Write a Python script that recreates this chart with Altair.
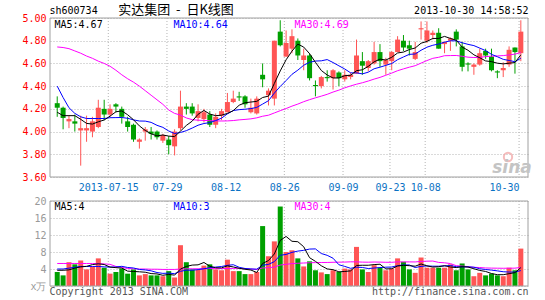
import altair as alt
import pandas as pd

# ---------------- data ----------------
tick_idx = [9, 19, 29, 39, 49, 57, 63, 79]
tick_lbl = ["2013-07-15", "07-29", "08-12", "08-26", "09-09", "09-23", "10-08", "10-30"]

opens = [4.25, 4.21, 4.09, 4.09, 4.01, 4.01, 4.00, 4.04, 4.20, 4.15,
         4.24, 4.20, 4.09, 4.06, 3.91, 4.00, 4.00, 4.00, 3.92, 3.93,
         3.87, 4.03, 4.22, 4.22, 4.12, 4.11, 4.15, 4.06, 4.14, 4.17,
         4.26, 4.31, 4.31, 4.17, 4.16, 4.50, 4.32, 4.29, 4.88, 4.66,
         4.73, 4.80, 4.63, 4.67, 4.41, 4.40, 4.48, 4.47, 4.52, 4.46,
         4.48, 4.51, 4.62, 4.56, 4.60, 4.70, 4.59, 4.62, 4.70, 4.80,
         4.76, 4.64, 4.90, 4.80, 4.85, 4.87, 4.77, 4.80, 4.88, 4.75,
         4.60, 4.57, 4.59, 4.71, 4.66, 4.53, 4.54, 4.59, 4.74, 4.69]
highs = [4.31, 4.22, 4.14, 4.15, 4.14, 4.14, 4.13, 4.28, 4.28, 4.24,
         4.25, 4.22, 4.13, 4.07, 3.94, 4.04, 4.04, 4.01, 3.98, 3.96,
         4.02, 4.36, 4.25, 4.25, 4.24, 4.20, 4.18, 4.16, 4.20, 4.34,
         4.36, 4.35, 4.32, 4.29, 4.31, 4.60, 4.38, 4.80, 4.98, 4.89,
         4.90, 4.82, 4.73, 4.69, 4.45, 4.49, 4.54, 4.55, 4.53, 4.54,
         4.52, 4.81, 4.70, 4.63, 4.79, 4.77, 4.65, 4.71, 4.84, 4.85,
         4.80, 4.79, 4.97, 4.97, 4.89, 4.91, 4.79, 4.83, 4.90, 4.79,
         4.61, 4.60, 4.73, 4.73, 4.73, 4.54, 4.61, 4.75, 4.74, 4.98]
lows = [4.13, 4.02, 4.03, 4.00, 3.70, 3.91, 3.95, 4.03, 4.10, 4.13,
        4.17, 4.07, 4.00, 3.91, 3.85, 3.92, 3.93, 3.93, 3.90, 3.80,
        3.79, 4.01, 4.15, 4.14, 4.09, 4.08, 4.04, 4.03, 4.10, 4.17,
        4.25, 4.27, 4.21, 4.16, 4.15, 4.39, 4.23, 4.23, 4.75, 4.66,
        4.69, 4.63, 4.54, 4.45, 4.31, 4.38, 4.44, 4.37, 4.40, 4.44,
        4.46, 4.51, 4.50, 4.53, 4.59, 4.57, 4.50, 4.54, 4.70, 4.71,
        4.67, 4.63, 4.81, 4.78, 4.81, 4.73, 4.69, 4.71, 4.75, 4.53,
        4.53, 4.50, 4.58, 4.64, 4.53, 4.47, 4.48, 4.57, 4.51, 4.62]
closes = [4.21, 4.12, 4.11, 4.07, 4.03, 4.03, 4.09, 4.21, 4.15, 4.20,
          4.22, 4.13, 4.04, 3.93, 3.93, 4.02, 3.98, 3.95, 3.97, 3.88,
          4.00, 4.22, 4.20, 4.16, 4.18, 4.17, 4.06, 4.13, 4.18, 4.26,
          4.29, 4.30, 4.24, 4.21, 4.29, 4.46, 4.36, 4.80, 4.76, 4.78,
          4.84, 4.67, 4.67, 4.47, 4.40, 4.48, 4.47, 4.54, 4.47, 4.50,
          4.50, 4.67, 4.58, 4.62, 4.70, 4.62, 4.63, 4.70, 4.81, 4.74,
          4.73, 4.70, 4.91, 4.89, 4.87, 4.73, 4.79, 4.82, 4.81, 4.57,
          4.59, 4.59, 4.69, 4.67, 4.54, 4.52, 4.56, 4.72, 4.70, 4.88]
ma5 = [4.17, 4.14, 4.14, 4.14, 4.108, 4.072, 4.066, 4.086, 4.102, 4.136,
       4.174, 4.182, 4.148, 4.104, 4.05, 4.01, 3.98, 3.962, 3.97, 3.96,
       3.956, 4.004, 4.054, 4.092, 4.152, 4.186, 4.154, 4.14, 4.144, 4.16,
       4.184, 4.232, 4.254, 4.26, 4.266, 4.30, 4.312, 4.424, 4.534, 4.632,
       4.708, 4.77, 4.744, 4.686, 4.61, 4.538, 4.498, 4.472, 4.472, 4.492,
       4.496, 4.536, 4.544, 4.574, 4.614, 4.638, 4.63, 4.654, 4.692, 4.70,
       4.722, 4.736, 4.778, 4.794, 4.82, 4.82, 4.838, 4.82, 4.804, 4.744,
       4.716, 4.676, 4.65, 4.622, 4.616, 4.602, 4.596, 4.602, 4.608, 4.676]
ma10 = [4.40, 4.30, 4.21, 4.16, 4.13, 4.115, 4.115, 4.115, 4.115, 4.122,
        4.123, 4.124, 4.117, 4.103, 4.093, 4.092, 4.081, 4.055, 4.037, 4.005,
        3.983, 3.992, 4.008, 4.031, 4.056, 4.071, 4.079, 4.097, 4.118, 4.156,
        4.185, 4.193, 4.197, 4.202, 4.213, 4.242, 4.272, 4.339, 4.397, 4.449,
        4.504, 4.541, 4.584, 4.61, 4.621, 4.623, 4.634, 4.608, 4.579, 4.551,
        4.517, 4.517, 4.508, 4.523, 4.553, 4.567, 4.583, 4.599, 4.633, 4.657,
        4.68, 4.683, 4.716, 4.743, 4.76, 4.771, 4.787, 4.799, 4.799, 4.782,
        4.768, 4.757, 4.735, 4.713, 4.68, 4.659, 4.636, 4.626, 4.615, 4.646]
ma30 = [4.745, 4.74, 4.73, 4.71, 4.69, 4.665, 4.645, 4.62, 4.60, 4.575,
        4.54, 4.50, 4.465, 4.435, 4.40, 4.36, 4.32, 4.28, 4.24, 4.19,
        4.16, 4.145, 4.12, 4.105, 4.10, 4.098, 4.096, 4.094, 4.093, 4.094,
        4.097, 4.103, 4.107, 4.112, 4.121, 4.135, 4.144, 4.164, 4.184, 4.203,
        4.224, 4.242, 4.263, 4.281, 4.297, 4.312, 4.328, 4.348, 4.365, 4.385,
        4.402, 4.417, 4.430, 4.445, 4.462, 4.477, 4.496, 4.515, 4.536, 4.552,
        4.567, 4.580, 4.603, 4.625, 4.645, 4.654, 4.668, 4.669, 4.670, 4.663,
        4.655, 4.652, 4.653, 4.660, 4.664, 4.666, 4.669, 4.675, 4.682, 4.695]

volume = [3.3, 2.5, 5.6, 5.1, 6.0, 3.9, 4.6, 6.5, 4.3, 2.9,
          3.3, 4.1, 2.9, 3.9, 2.5, 2.8, 2.5, 2.5, 2.3, 3.5,
          2.0, 9.6, 5.6, 3.9, 3.8, 4.8, 5.1, 3.9, 3.7, 6.2,
          3.5, 3.5, 2.8, 2.8, 3.3, 14.1, 7.0, 10.5, 18.7, 8.0,
          8.4, 6.5, 4.6, 5.8, 3.7, 3.2, 2.8, 3.7, 3.3, 4.1,
          3.9, 9.2, 3.9, 3.3, 4.9, 4.3, 3.7, 4.1, 6.5, 5.7,
          3.9, 3.1, 6.7, 4.3, 4.3, 4.3, 4.3, 5.1, 3.7, 5.3,
          3.9, 2.3, 3.1, 2.5, 2.9, 2.5, 2.3, 4.3, 3.7, 8.8]
vma5 = [3.7, 3.7, 3.8, 4.2, 4.5, 4.62, 5.04, 5.22, 5.06, 4.44,
        4.32, 4.22, 3.5, 3.42, 3.34, 3.24, 2.92, 2.84, 2.52, 2.72,
        2.56, 3.98, 4.6, 4.92, 4.98, 5.54, 4.64, 4.3, 4.26, 4.74,
        4.48, 4.16, 3.94, 3.76, 3.18, 5.3, 6.0, 7.54, 10.72, 11.66,
        10.52, 10.42, 9.24, 6.66, 5.8, 4.76, 4.02, 3.84, 3.34, 3.42,
        3.56, 4.84, 4.88, 4.88, 5.04, 5.12, 4.02, 4.06, 4.7, 4.86,
        4.78, 4.66, 5.18, 4.74, 4.46, 4.54, 4.78, 4.46, 4.34, 4.54,
        4.46, 4.06, 3.66, 3.42, 2.94, 2.66, 2.66, 2.9, 3.14, 4.32]
vma10 = [4.0, 4.0, 4.2, 4.4, 4.6, 4.6, 4.6, 4.6, 4.5, 4.47,
         4.47, 4.63, 4.36, 4.24, 3.89, 3.78, 3.57, 3.17, 2.97, 3.03,
         2.9, 3.45, 3.72, 3.72, 3.85, 4.05, 4.31, 4.45, 4.59, 4.86,
         5.01, 4.4, 4.12, 4.01, 3.96, 4.89, 5.08, 5.74, 7.24, 7.42,
         7.91, 8.21, 8.39, 8.69, 8.73, 7.64, 7.22, 6.54, 5.0, 4.61,
         4.16, 4.43, 4.36, 4.11, 4.23, 4.34, 4.43, 4.47, 4.79, 4.95,
         4.95, 4.34, 4.62, 4.72, 4.66, 4.66, 4.72, 4.82, 4.54, 4.5,
         4.5, 4.42, 4.06, 3.88, 3.74, 3.56, 3.36, 3.28, 3.28, 3.63]
vma30 = [5.3, 5.3, 5.3, 5.3, 5.3, 5.3, 5.3, 5.25, 5.2, 5.1,
         4.6, 4.4, 4.1, 4.05, 4.0, 4.0, 3.95, 3.95, 3.9, 3.9,
         3.9, 4.0, 4.05, 4.05, 4.05, 4.1, 4.1, 4.1, 4.1, 4.12,
         4.13, 4.16, 4.07, 3.99, 3.9, 4.24, 4.32, 4.45, 4.93, 5.10,
         5.27, 5.35, 5.41, 5.47, 5.51, 5.53, 5.54, 5.58, 5.61, 5.63,
         5.69, 5.68, 5.62, 5.60, 5.64, 5.62, 5.58, 5.58, 5.68, 5.66,
         5.67, 5.66, 5.79, 5.84, 5.87, 5.55, 5.46, 5.28, 4.78, 4.69,
         4.54, 4.40, 4.35, 4.24, 4.21, 4.19, 4.17, 4.19, 4.20, 4.36]

price_ticks = [3.6, 3.8, 4.0, 4.2, 4.4, 4.6, 4.8, 5.0]
vol_ticks = [0, 4, 8, 12, 16, 20]

title_left = "sh600734"
title_mid = "实达集团\u00a0\u00a0-\u00a0\u00a0日K线图"
title_right = "2013-10-30 14:58:52"
price_ma_labels = ["MA5:4.67", "MA10:4.64", "MA30:4.69"]
vol_ma_labels = ["MA5:4", "MA10:3", "MA30:4"]
footer_left = "Copyright 2013 SINA.COM"
footer_right = "http://finance.sina.com.cn"
vol_unit = "x万"

# ---------------- styling / layout ----------------
MONO = "DejaVu Sans Mono"
RED = "#ff5555"
GREEN = "#00a000"
MA_COLORS = ["#000000", "#0000ff", "#ff00ff"]
GRID = "#b4b4b4"
FRAME = "#a0a0a0"
W = 478          # plot width
PH = 159         # price panel height
VT, VB = 183, 268  # volume panel top / bottom (relative)

n = len(closes)
df = pd.DataFrame({
    "idx": list(range(n)),
    "open": opens, "high": highs, "low": lows, "close": closes,
    "ma5": ma5, "ma10": ma10, "ma30": ma30,
    "vol": volume, "vma5": vma5, "vma10": vma10, "vma30": vma30,
})
df["dir"] = ["up" if c >= o else "down" for o, c in zip(opens, closes)]

tick_pos = [round(i - 0.3, 2) for i in tick_idx]
grid_df = pd.DataFrame({"gx": tick_pos})
dummy = pd.DataFrame({"k": [0]})

expr = "''"
for p, l in reversed(list(zip(tick_pos, tick_lbl))):
    expr = f"abs(datum.value - {p}) < 0.05 ? '{l}' : ({expr})"

x_scale = alt.Scale(domain=[-0.38, 79.37], nice=False, zero=False)
x_axis = alt.Axis(values=tick_pos, labelExpr=expr, orient="bottom", offset=-(VB - PH),
                  grid=False, ticks=False, domain=False, labelColor="#0a72c4",
                  labelFont=MONO, labelFontSize=10, labelPadding=5, labelFlush=False,
                  labelOverlap=False, labelBaseline="top", title=None,
                  labelAlign={"condition": {"test": "datum.value > 78", "value": "right"},
                              "value": "center"})


def X(field):
    return alt.X(field, type="quantitative", scale=x_scale, axis=x_axis)


p_scale = alt.Scale(domain=[3.6, 5.0], range=[PH, 0], nice=False, zero=False)
p_axis = alt.Axis(values=price_ticks, format=".2f", orient="left", labelColor="#ff0000",
                  labelFont=MONO, labelFontSize=10, labelPadding=4, ticks=False,
                  domain=False, grid=True, gridColor=GRID, gridDash=[1, 2],
                  labelOverlap=False, title=None)


def PY(field):
    return alt.Y(field, type="quantitative", scale=p_scale, axis=p_axis)


v_scale = alt.Scale(domain=[0, 20], range=[VB, VT], nice=False, zero=True)
v_axis = alt.Axis(values=vol_ticks, orient="left", labelColor="#999999",
                  labelExpr=f"datum.value == 0 ? '{vol_unit}' : datum.label",
                  labelFont=MONO, labelFontSize=10, labelPadding=4, ticks=False,
                  domain=False, grid=True, gridColor=GRID, gridDash=[1, 2],
                  labelOverlap=False, title=None)


def VY(field):
    return alt.Y(field, type="quantitative", scale=v_scale, axis=v_axis)


COLOR = alt.Color("dir:N", scale=alt.Scale(domain=["up", "down"], range=[RED, GREEN]), legend=None)


def text(t, x, y, color="#000000", align="left", size=10, font=MONO, **kw):
    return alt.Chart(dummy).mark_text(align=align, baseline="middle", font=font, fontSize=size,
                                      color=color, **kw).encode(
        x=alt.value(x), y=alt.value(y), text=alt.value(t))


def frame(y0, y1):
    return alt.Chart(dummy).mark_rect(fillOpacity=0, stroke=FRAME, strokeWidth=1).encode(
        x=alt.value(0), x2=alt.value(W), y=alt.value(y0), y2=alt.value(y1))


def vgrid(y0, y1):
    return alt.Chart(grid_df).mark_rule(color=GRID, strokeDash=[1, 2], strokeWidth=1).encode(
        x=X("gx"), y=alt.value(y0), y2=alt.value(y1))


base = alt.Chart(df)

# ---------------- price panel ----------------
wicks = base.mark_rule(strokeWidth=1).encode(x=X("idx"), y=PY("low"), y2="high", color=COLOR)
bodies = base.mark_bar(size=5).encode(x=X("idx"), y=PY("open"), y2="close", color=COLOR)
p_lines = [base.mark_line(color=c, strokeWidth=1).encode(x=X("idx"), y=PY(f))
           for f, c in zip(["ma30", "ma10", "ma5"], MA_COLORS[::-1])]
ma_x = [4.5, 123.5, 244.5]
p_texts = [text(t, xx, 7, color=c) for t, xx, c in zip(price_ma_labels, ma_x, MA_COLORS)]
sina_mark = alt.Chart(dummy).mark_point(shape="circle", filled=False, color="#f2a0a0",
                                        size=70, strokeWidth=2).encode(
    x=alt.value(458), y=alt.value(139))
sina_txt = text("sina", 462, 150, color="#c4c4c4", align="center", size=17,
                font="DejaVu Sans", fontStyle="italic", fontWeight="bold")

price = alt.layer(vgrid(0, PH), wicks, bodies, *p_lines, frame(0, PH), sina_mark, sina_txt,
                  *p_texts)

# ---------------- volume panel ----------------
vbars = base.mark_bar(size=5).encode(x=X("idx"), y=VY("vol"), color=COLOR)
v_lines = [base.mark_line(color=c, strokeWidth=1).encode(x=X("idx"), y=VY(f))
           for f, c in zip(["vma30", "vma10", "vma5"], MA_COLORS[::-1])]
v_texts = [text(t, xx, VT + 6, color=c) for t, xx, c in zip(vol_ma_labels, ma_x, MA_COLORS)]

vol = alt.layer(vgrid(VT, VB), vbars, *v_lines, frame(VT, VB), *v_texts)

# ---------------- header / footer ----------------
hdr = alt.layer(
    text(title_left, -0.5, -7),
    text(title_mid, 126, -8.5, align="center", size=13, font="Noto Sans CJK SC"),
    text(title_right, 478.5, -7, align="right"),
    text(footer_left, -0.5, 274, color="#555555"),
    text(footer_right, 478.5, 274, color="#555555", align="right"),
)

chart = alt.layer(price, vol, hdr).resolve_scale(y="independent").properties(
    width=W, height=VB,
    padding={"left": 50, "top": 18, "right": 17, "bottom": 14},
    autosize=alt.AutoSizeParams(type="none"),
    background="white",
).configure_view(strokeWidth=0)

chart.save("out.html", embed_options={"renderer": "svg", "actions": False})
